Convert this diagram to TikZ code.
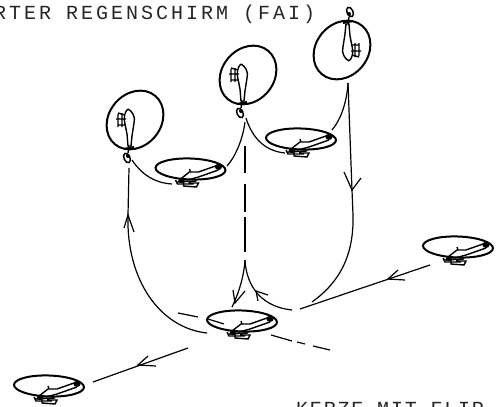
\documentclass[tikz,border=0pt]{standalone}
\usepackage{fontspec}
\setmonofont[LetterSpace=15]{Liberation Mono}
\newfontfamily\capfont[LetterSpace=9]{Liberation Mono}
\tikzset{
  ring/.style={line width=2pt},
  curve/.style={line width=1.2pt},
  thick part/.style={line width=1.4pt},
  txt/.style={font=\ttfamily\fontsize{20}{20}\selectfont, inner sep=0pt, text=black!85},
  captxt/.style={font=\capfont\fontsize{20}{20}\selectfont, inner sep=0pt, text=black!85},
  pics/flathelo/.style={code={
    \draw[ring,rotate=-2] (0,0) ellipse (35 and 10.5);
    \draw[thick part] (29,-5) -- (25,-3) -- (8,3) -- (-1,3) -- (-10,10) -- (-3,11) -- (8,8) -- (28,1);
    \draw[thick part] (0,3) -- (-1,0);
    \draw[thick part] (-13,13) -- (6,12) (-15,11) -- (-13,15) -- (3,15) (-7,13) -- (-7,17) -- (6,18) -- (8,14) -- (-2,14);
    \fill (28,-2) ellipse (3.5 and 3);
    \fill (-9,12) ellipse (3.5 and 2);
  }},
  pics/uprighthelo/.style={code={
    \draw[ring,rotate=50] (0,0) ellipse (31.5 and 26);
    \draw[thick part] (-7,-11) .. controls (-3,-9) and (1,-3) .. (-1,3) -- (-3,16) -- (-4,26) -- (-7,26) -- (-8,14) -- (-10,4) .. controls (-12,-2) and (-10,-9) .. (-7,-11);
    \draw[thick part] (-17,-6) -- (-17,7) (-13,-7) -- (-13,7) (-19,-1) -- (-9,-1) (-17,-7) -- (-10,-5) (-17,5) -- (-10,5);
    \draw[line width=2pt] (-11,29) -- (-1,27);
    \draw[line width=1.5pt,rotate around={25:(-8,38)}] (-8,38) ellipse (3 and 5);
    \fill (-7,36) circle (2);
    \draw[thick part] (-6,26) -- (-7,33);
  }},
}
\begin{document}
\begin{tikzpicture}[x=1pt,y=-1pt]
\useasboundingbox (0,0) rectangle (499,407);
\clip (0,0) rectangle (499,407);
\node[txt,anchor=base west] (title) at (-6,19) {RTER REGENSCHIRM (FAI)};
\node[captxt,anchor=base west] (caption) at (296,415) {KERZE MIT FLIP};
\pic at (190.5,169) {flathelo};
\pic at (301,139) {flathelo};
\pic at (242,321) {flathelo};
\pic at (49,386) {flathelo};
\pic at (458,247) {flathelo};
\pic at (135,120) {uprighthelo};
\pic at (248,75) {uprighthelo};
\pic[rotate=180] at (342,50) {uprighthelo};
% named anchors of the path
\coordinate (a1) at (132,160); \coordinate (a2) at (172,184);
\coordinate (b1) at (227,166); \coordinate (b2) at (245,122);
\coordinate (c1) at (246,118); \coordinate (c2) at (285,153);
\coordinate (d1) at (332,130); \coordinate (d2) at (348,83);
\coordinate (e1) at (352,190); \coordinate (e2) at (312,302);
\coordinate (f1) at (129,168); \coordinate (f2) at (128,215); \coordinate (f3) at (207,333);
\coordinate (g1) at (245,260); \coordinate (g2) at (232,307); \coordinate (g3) at (292,310);
\coordinate (h1) at (430,265); \coordinate (h2) at (300,309); \coordinate (h3) at (388,279);
\coordinate (i1) at (188,348); \coordinate (i2) at (93,382); \coordinate (i3) at (138,365);
\begin{scope}[curve]
\draw (a1) .. controls (142,175) and (155,183) .. (a2);
\draw (b1) .. controls (236,156) and (243,138) .. (b2);
\draw (c1) .. controls (252,137) and (264,151) .. (c2);
\draw (d1) .. controls (342,118) and (347,100) .. (d2);
\draw (d2) -- (e1);
\draw (e1) -- (353,215) .. controls (354,255) and (340,282) .. (e2);
\draw (344,172) -- (e1) -- (361,178);
\draw (f1) -- (f2);
\draw (f2) .. controls (126,280) and (160,328) .. (f3);
\draw (124,228) -- (f2) -- (134,232);
\draw[dash pattern=on 27pt off 11pt on 28pt off 5pt on 35pt off 100pt] (245,146) -- (245,252);
\draw (g1) .. controls (244,277) and (238,295) .. (g2);
\draw (233,290) -- (235,303) -- (245,291);
\draw (g1) .. controls (246,280) and (256,306) .. (g3);
\draw (258,301) -- (256,291) -- (268,295);
\draw (h1) -- (h2);
\draw (398,270) -- (h3) -- (405,280);
\draw (i1) -- (i2);
\draw (148,356) -- (i3) -- (156,366);
\draw (178,313) -- (198,317);
\draw (208,319) -- (224,324);
\draw (271,335) -- (292,341);
\draw (297,342) -- (305,344);
\draw (313,346) -- (330,350);
\end{scope}
\end{tikzpicture}
\end{document}
